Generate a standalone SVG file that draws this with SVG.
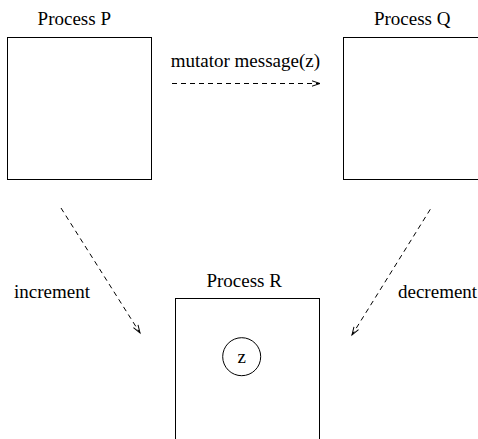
<svg xmlns="http://www.w3.org/2000/svg" width="478" height="439" viewBox="0 0 478 439">
  <style>
    .box { fill: none; stroke: #000; stroke-width: 1; }
    .lbl { font-family: "Liberation Serif", "Times New Roman", serif; font-size: 19px; fill: #000; }
    .conn { fill: none; stroke: #000; stroke-width: 1; stroke-dasharray: 5 4; }
  </style>
  <defs>
    <marker id="arr" markerUnits="userSpaceOnUse" markerWidth="12" markerHeight="8" refX="9" refY="4" orient="auto">
      <path d="M1,1.3 L9,4 L1,6.7" fill="none" stroke="#000" stroke-width="1"/>
    </marker>
  </defs>
  <rect width="478" height="439" fill="#fff"/>
  <g id="processP">
    <rect class="box" x="7.5" y="37.5" width="144" height="142"/>
    <text class="lbl" x="74.3" y="25" text-anchor="middle">Process P</text>
  </g>
  <g id="processQ">
    <rect class="box" x="343.5" y="37.5" width="144" height="142"/>
    <text class="lbl" x="412.2" y="25" text-anchor="middle">Process Q</text>
  </g>
  <g id="processR">
    <rect class="box" x="175.5" y="298.5" width="144" height="142"/>
    <text class="lbl" x="244.2" y="286.5" text-anchor="middle">Process R</text>
    <circle class="box" cx="241.7" cy="356.7" r="19"/>
    <text class="lbl" x="241.7" y="363" text-anchor="middle">z</text>
  </g>
  <g id="connectors">
    <line class="conn" x1="172" y1="83.5" x2="320" y2="83.5" marker-end="url(#arr)"/>
    <text class="lbl" x="170.7" y="66.7">mutator message(z)</text>
    <line class="conn" x1="61" y1="208" x2="140" y2="333" marker-end="url(#arr)"/>
    <text class="lbl" x="14" y="297.7">increment</text>
    <line class="conn" x1="430.3" y1="209.3" x2="352" y2="335" marker-end="url(#arr)"/>
    <text class="lbl" x="398" y="297.7">decrement</text>
  </g>
</svg>
